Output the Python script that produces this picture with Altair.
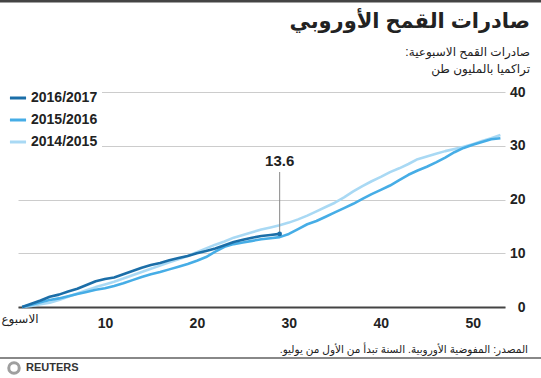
import altair as alt
import pandas as pd

# ---- data ----
series_names = ["2016/2017", "2015/2016", "2014/2015"]
series_colors = ["#1b6ea8", "#46ade6", "#a9d9f4"]

weeks_2016 = list(range(1, 30))
vals_2016 = [0, 0.6, 1.2, 1.9, 2.3, 2.9, 3.4, 4.1, 4.8, 5.2, 5.5, 6.1, 6.7, 7.3, 7.8,
             8.2, 8.7, 9.1, 9.5, 10.0, 10.4, 10.9, 11.5, 12.1, 12.5, 12.9, 13.2, 13.4, 13.6]

weeks_2015 = list(range(1, 54))
vals_2015 = [0, 0.4, 0.9, 1.3, 1.6, 2.0, 2.4, 2.8, 3.2, 3.5, 3.9, 4.4, 5.0, 5.6, 6.1,
             6.5, 7.0, 7.5, 8.0, 8.6, 9.3, 10.3, 11.2, 11.7, 12.0, 12.3, 12.6, 12.8, 13.0,
             13.6, 14.5, 15.4, 16.0, 16.8, 17.6, 18.4, 19.2, 20.1, 21.0, 21.8, 22.6, 23.6,
             24.6, 25.4, 26.1, 26.9, 27.8, 28.8, 29.6, 30.2, 30.7, 31.2, 31.4]

weeks_2014 = list(range(1, 54))
vals_2014 = [0, 0.2, 0.5, 0.8, 1.3, 1.9, 2.5, 3.1, 3.7, 4.2, 4.7, 5.3, 5.9, 6.5, 7.1,
             7.7, 8.3, 8.9, 9.5, 10.2, 10.9, 11.6, 12.2, 12.9, 13.4, 13.9, 14.4, 14.8, 15.2,
             15.7, 16.3, 17.0, 17.8, 18.6, 19.4, 20.4, 21.5, 22.5, 23.4, 24.2, 25.1, 25.8,
             26.6, 27.5, 28.0, 28.5, 29.0, 29.4, 29.8, 30.3, 30.9, 31.4, 32.0]

x_ticks = [10, 20, 30, 40, 50]
y_ticks = [0, 10, 20, 30, 40]

title_text = "صادرات القمح الأوروبي"
subtitle_1 = "صادرات القمح الاسبوعية:"
subtitle_2 = "تراكميا بالمليون طن"
x_start_label = "الاسبوع"
source_text = "المصدر: المفوضية الأوروبية. السنة تبدأ من الأول من يوليو."
brand_text = "REUTERS"

annot_week = [29]
annot_value = [13.6]
annot_label = ["13.6"]

FONT = "Liberation Sans, Arial, DejaVu Sans"
RLM = "\u200f"

rows = []
for name, wk, vl, order in [("2014/2015", weeks_2014, vals_2014, 0),
                            ("2015/2016", weeks_2015, vals_2015, 1),
                            ("2016/2017", weeks_2016, vals_2016, 2)]:
    for w, v in zip(wk, vl):
        rows.append({"week": w, "value": v, "season": name, "ord": order})
df = pd.DataFrame(rows)
annot = pd.DataFrame({"week": annot_week, "value": annot_value, "label": annot_label})

W, H = 487, 215
xscale = alt.Scale(domain=[0.55, 53.5], nice=False, zero=False)
yscale = alt.Scale(domain=[0, 40], nice=False)

base = alt.Chart(df)

lines = base.mark_line(strokeWidth=2.6, strokeJoin="round").encode(
    x=alt.X("week:Q", scale=xscale,
            axis=alt.Axis(values=x_ticks, title=None, grid=False, ticks=False,
                          domain=True, domainColor="#444444", domainWidth=2,
                          labelFont=FONT, labelFontSize=14, labelFontWeight="bold",
                          labelColor="#222222", labelPadding=9)),
    y=alt.Y("value:Q", scale=yscale,
            axis=alt.Axis(values=y_ticks, title=None, orient="right", grid=True,
                          gridColor="#cccccc", gridWidth=1, ticks=False, domain=False,
                          labelFont=FONT, labelFontSize=14, labelFontWeight="bold",
                          labelColor="#222222", labelAlign="right", labelPadding=20)),
    color=alt.Color("season:N",
                    scale=alt.Scale(domain=series_names, range=series_colors),
                    legend=alt.Legend(title=None, orient="none", legendX=-14, legendY=-8,
                                      symbolType="stroke", symbolSize=260,
                                      symbolStrokeWidth=3, labelFont=FONT,
                                      labelFontSize=14, labelFontWeight="bold",
                                      labelColor="#222222", labelOffset=3,
                                      rowPadding=5, fillColor="white", padding=4)),
    order=alt.Order("ord:Q"),
)

ann = alt.Chart(annot)
ann_rule = ann.mark_rule(color="#888888", strokeWidth=1).encode(
    x="week:Q", y="value:Q", y2=alt.value(80))
ann_point = ann.mark_point(filled=True, size=22, color="#1b6ea8", opacity=1).encode(
    x="week:Q", y="value:Q")
ann_text = ann.mark_text(font=FONT, fontSize=15, fontWeight="bold", color="#222222",
                         dy=-73, baseline="middle").encode(
    x="week:Q", y="value:Q", text="label:N")


def txt(s, x, y, size, weight="normal", align="right", color="#222222", rtl=True):
    if rtl:
        s = RLM + s + RLM
    return alt.Chart(pd.DataFrame({"t": [s]})).mark_text(
        font=FONT, fontSize=size, fontWeight=weight, align=align,
        baseline="middle", color=color).encode(
        text="t:N", x=alt.value(x), y=alt.value(y))


title = txt(title_text, 512, -70, 21, "bold")
sub1 = txt(subtitle_1, 512, -40, 12, "normal")
sub2 = txt(subtitle_2, 512, -23, 12, "normal")
xstart = txt(x_start_label, 2, 227, 12, "normal", "center")
source = txt(source_text, 510, 258, 10.5, "normal")
brand = txt(brand_text, 8, 276, 11, "bold", "left", "#333333", rtl=False)

logo = alt.Chart(pd.DataFrame({"a": [1]})).mark_point(
    shape="circle", size=110, strokeWidth=3, color="#777777", filled=False).encode(
    x=alt.value(-4), y=alt.value(276))

top_rule = alt.Chart(pd.DataFrame({"a": [1]})).mark_rule(
    color="#444444", strokeWidth=3).encode(
    x=alt.value(-18), x2=alt.value(523), y=alt.value(-91))
bottom_rule = alt.Chart(pd.DataFrame({"a": [1]})).mark_rule(
    color="#888888", strokeWidth=2).encode(
    x=alt.value(-18), x2=alt.value(523), y=alt.value(266))

chart = alt.layer(
    lines, ann_rule, ann_point, ann_text,
    title, sub1, sub2, xstart, source, brand, logo, top_rule, bottom_rule
).properties(
    width=W, height=H,
    autosize=alt.AutoSizeParams(type="none"),
    padding={"left": 18, "top": 92, "right": 36, "bottom": 71},
    background="white",
).configure_view(stroke=None)

chart.save("out.html", embed_options={"renderer": "svg", "actions": False})
